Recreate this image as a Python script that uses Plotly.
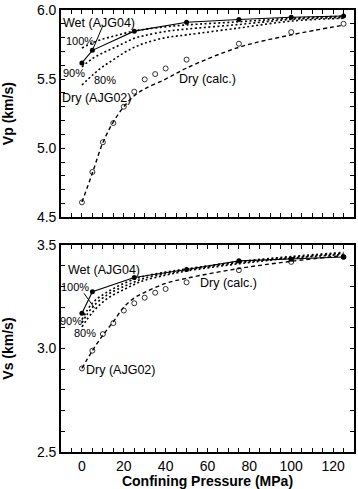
import plotly.graph_objects as go

# ---------------- data ----------------
# Vp panel
wet_p_x = [0, 5, 25, 50, 75, 100, 125]
wet_p_y = [5.617, 5.708, 5.847, 5.911, 5.931, 5.947, 5.957]

dry_p_x = [0, 5, 10, 15, 20, 25, 30, 35, 40, 50, 75, 100, 125]
dry_p_y = [4.608, 4.828, 5.043, 5.182, 5.30, 5.409, 5.498, 5.536, 5.577, 5.641, 5.756, 5.84, 5.90]

calc_x = [0, 5, 10, 15, 20, 25, 30, 40, 50, 75, 100, 125]
calc_p_y = [4.61, 4.82, 5.04, 5.19, 5.30, 5.38, 5.43, 5.50, 5.58, 5.73, 5.82, 5.89]

sat_x = [0, 5, 10, 15, 20, 25, 30, 40, 50, 75, 100, 125]
sat100_p = [5.725, 5.762, 5.79, 5.81, 5.83, 5.848, 5.86, 5.878, 5.892, 5.915, 5.94, 5.955]
sat90_p = [5.589, 5.648, 5.69, 5.725, 5.76, 5.795, 5.815, 5.845, 5.862, 5.895, 5.932, 5.945]
sat80_p = [5.457, 5.528, 5.59, 5.64, 5.69, 5.73, 5.76, 5.80, 5.82, 5.87, 5.92, 5.94]

# Vs panel
wet_s_y = [3.171, 3.275, 3.344, 3.382, 3.424, 3.432, 3.443]
dry_s_y = [2.904, 2.990, 3.070, 3.123, 3.184, 3.219, 3.246, 3.270, 3.288, 3.320, 3.379, 3.419, 3.443]
calc_s_y = [2.904, 2.99, 3.065, 3.13, 3.20, 3.245, 3.272, 3.315, 3.34, 3.387, 3.422, 3.45]
sat100_s = [3.14, 3.22, 3.26, 3.29, 3.315, 3.335, 3.35, 3.37, 3.385, 3.42, 3.445, 3.465]
sat90_s = [3.125, 3.20, 3.245, 3.277, 3.30, 3.322, 3.34, 3.362, 3.38, 3.415, 3.44, 3.46]
sat80_s = [3.105, 3.175, 3.225, 3.26, 3.285, 3.31, 3.33, 3.355, 3.375, 3.41, 3.437, 3.455]

x_tick_vals = [0, 20, 40, 60, 80, 100, 120]
vp_ticks = [4.5, 5.0, 5.5, 6.0]
vs_ticks = [2.5, 3.0, 3.5]

FONT = "Liberation Sans, Arial, Helvetica, sans-serif"
DOT = "2px,2.5px"
DASH = "4px,3px"

fig = go.Figure()

def add_panel(xa, ya, wet_y, dry_y, calc_y, s100, s90, s80):
    for s in (s80, s90, s100):
        fig.add_trace(go.Scatter(x=sat_x, y=s, xaxis=xa, yaxis=ya, mode="lines",
                                 line=dict(color="black", width=1.6, dash=DOT, shape="spline"),
                                 showlegend=False, hoverinfo="skip"))
    fig.add_trace(go.Scatter(x=calc_x, y=calc_y, xaxis=xa, yaxis=ya, mode="lines",
                             line=dict(color="black", width=1.4, dash=DASH, shape="spline"),
                             showlegend=False))
    fig.add_trace(go.Scatter(x=wet_p_x, y=wet_y, xaxis=xa, yaxis=ya, mode="lines+markers",
                             line=dict(color="black", width=1.1),
                             marker=dict(symbol="circle", size=5, color="black"),
                             showlegend=False))
    fig.add_trace(go.Scatter(x=dry_p_x, y=dry_y, xaxis=xa, yaxis=ya, mode="markers",
                             marker=dict(symbol="circle-open", size=5, color="black",
                                         line=dict(width=0.8, color="black")),
                             showlegend=False))

add_panel("x", "y", wet_p_y, dry_p_y, calc_p_y, sat100_p, sat90_p, sat80_p)
add_panel("x2", "y2", wet_s_y, dry_s_y, calc_s_y, sat100_s, sat90_s, sat80_s)

axis_common = dict(showline=True, linecolor="black", linewidth=1.6, mirror="allticks",
                   ticks="inside", ticklen=4, tickwidth=1, tickcolor="black",
                   showgrid=False, zeroline=False,
                   tickfont=dict(family=FONT, size=14, color="black"))

fig.update_layout(
    width=358, height=489,
    margin=dict(l=61, r=2, t=6, b=37),
    paper_bgcolor="white", plot_bgcolor="white",
    font=dict(family=FONT, color="black"),
    xaxis=dict(axis_common, range=[-10, 130], domain=[0, 1], anchor="y",
               tickvals=x_tick_vals, showticklabels=False,
               minor=dict(dtick=5, tick0=0, ticks="inside", ticklen=4, tickcolor="black")),
    yaxis=dict(axis_common, range=[4.5, 6.0], domain=[0.531, 1], anchor="x",
               tickvals=vp_ticks, ticktext=["4.5", "5.0", "5.5", "6.0"],
               minor=dict(dtick=0.1, tick0=4.5, ticks="inside", ticklen=4, tickcolor="black"),
               title=dict(text="<b>Vp (km/s)</b>", font=dict(family=FONT, size=14), standoff=20)),
    xaxis2=dict(axis_common, range=[-10, 130], domain=[0, 1], anchor="y2",
                tickvals=x_tick_vals,
                minor=dict(dtick=5, tick0=0, ticks="inside", ticklen=4, tickcolor="black"),
                title=dict(text="<b>Confining Pressure (MPa)</b>", font=dict(family=FONT, size=14),
                           standoff=1)),
    yaxis2=dict(axis_common, range=[2.5, 3.5], domain=[0, 0.468], anchor="x2",
                tickvals=vs_ticks, ticktext=["2.5", "3.0", "3.5"],
                minor=dict(dtick=0.1, tick0=2.5, ticks="inside", ticklen=4, tickcolor="black"),
                title=dict(text="<b>Vs (km/s)</b>", font=dict(family=FONT, size=14), standoff=20)),
)

def label(text, x, y, xref, yref, size=12.5):
    fig.add_annotation(text=text, x=x, y=y, xref=xref, yref=yref, showarrow=False,
                       font=dict(family=FONT, size=size, color="black"))

# Vp labels
label("Wet (AJG04)", 8.0, 5.907, "x", "y")
label("100%", -1.0, 5.778, "x", "y", 11)
label("90%", -3.8, 5.541, "x", "y", 11)
label("80%", 10.9, 5.49, "x", "y", 11)
label("Dry (AJG02)", 7.1, 5.361, "x", "y")
label("Dry (calc.)", 60.2, 5.498, "x", "y")
# Vs labels
label("Wet (AJG04)", 10.7, 3.382, "x2", "y2")
label("100%", -3.2, 3.299, "x2", "y2", 11)
label("90%", -5.3, 3.131, "x2", "y2", 11)
label("80%", 1.6, 3.075, "x2", "y2", 11)
label("Dry (AJG02)", 18.2, 2.894, "x2", "y2")
label("Dry (calc.)", 70.2, 3.315, "x2", "y2")

# leader lines
fig.add_shape(type="line", xref="x", yref="y", x0=9.8, y0=5.88, x1=5, y1=5.708,
              line=dict(color="black", width=1))
fig.add_shape(type="line", xref="x2", yref="y2", x0=1.0, y0=3.267, x1=6.1, y1=3.195,
              line=dict(color="black", width=1))

fig.write_html("out.html", config={"displayModeBar": False},
               post_script="document.body.style.margin='0';document.body.style.overflow='hidden';")
